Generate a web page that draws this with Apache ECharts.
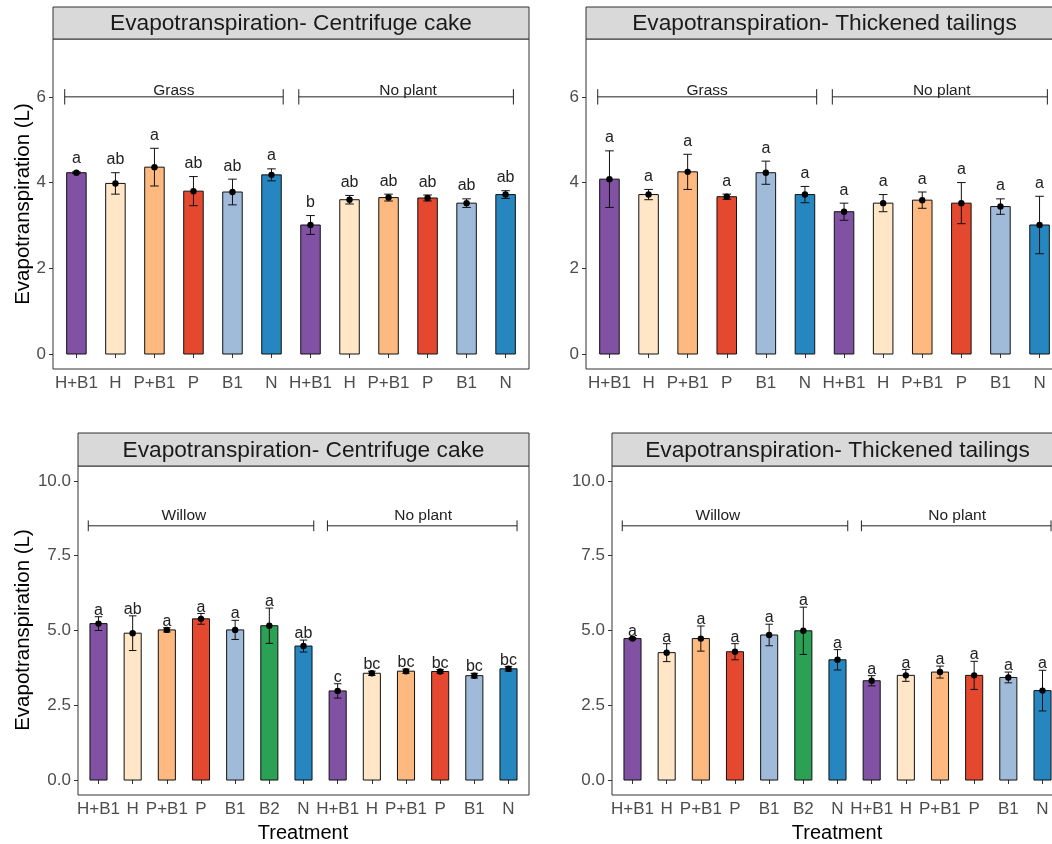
<!DOCTYPE html>
<html>
<head>
<meta charset="utf-8">
<script src="https://cdn.jsdelivr.net/npm/echarts@6/dist/echarts.min.js"></script>
<style>
html,body{margin:0;padding:0;background:#fff;overflow:hidden;}
#c{width:1080px;height:844px;}
</style>
</head>
<body>
<div id="c"></div>
<script>
// ---------------- data ----------------
const grassCats = ['H+B1','H','P+B1','P','B1','N','H+B1','H','P+B1','P','B1','N'];
const willowCats = ['H+B1','H','P+B1','P','B1','B2','N','H+B1','H','P+B1','P','B1','N'];

// Centrifuge cake - Grass / No plant
const ccGrassMean = [4.23, 3.98, 4.36, 3.80, 3.78, 4.18, 3.01, 3.60, 3.65, 3.64, 3.52, 3.72];
const ccGrassSE   = [0.02, 0.25, 0.44, 0.34, 0.30, 0.14, 0.22, 0.10, 0.08, 0.07, 0.10, 0.09];
const ccGrassLetters = ['a','ab','a','ab','ab','a','b','ab','ab','ab','ab','ab'];

// Thickened tailings - Grass / No plant
const ttGrassMean = [4.08, 3.72, 4.25, 3.67, 4.23, 3.72, 3.32, 3.52, 3.59, 3.52, 3.44, 3.01];
const ttGrassSE   = [0.66, 0.12, 0.41, 0.06, 0.27, 0.19, 0.20, 0.20, 0.19, 0.48, 0.18, 0.67];
const ttGrassLetters = ['a','a','a','a','a','a','a','a','a','a','a','a'];

// Centrifuge cake - Willow / No plant
const ccWillowMean = [5.23, 4.91, 5.02, 5.39, 5.02, 5.16, 4.48, 2.98, 3.57, 3.64, 3.63, 3.49, 3.72];
const ccWillowSE   = [0.23, 0.58, 0.07, 0.18, 0.32, 0.59, 0.20, 0.24, 0.07, 0.07, 0.06, 0.08, 0.08];
const ccWillowLetters = ['a','ab','a','a','a','a','ab','c','bc','bc','bc','bc','bc'];

// Thickened tailings - Willow / No plant
const ttWillowMean = [4.73, 4.26, 4.73, 4.29, 4.85, 4.99, 4.02, 3.32, 3.50, 3.61, 3.50, 3.43, 2.99];
const ttWillowSE   = [0.03, 0.30, 0.42, 0.27, 0.36, 0.79, 0.34, 0.17, 0.20, 0.20, 0.47, 0.18, 0.68];
const ttWillowLetters = ['a','a','a','a','a','a','a','a','a','a','a','a','a'];

// tick labels
const topYTicks = [0, 2, 4, 6];
const bottomYTicks = [0, 2.5, 5, 7.5, 10];

// group brackets
const grassGroupLabels = ['Grass', 'No plant'];
const grassGroupStart = [0.7, 6.7];
const grassGroupEnd = [6.3, 12.2];
const grassGroupLabelX = [3.5, 9.5];
const grassGroupY = 6;
const grassGroupLabelY = 6.15;

const willowGroupLabels = ['Willow', 'No plant'];
const willowGroupStart = [0.7, 7.7];
const willowGroupEnd = [7.3, 13.25];
const willowGroupLabelX = [3.5, 10.5];
const willowGroupY = 8.5;
const willowGroupLabelY = 8.85;

// ---------------- styles ----------------
const FONT = "'Liberation Sans', Arial, Helvetica, sans-serif";
const C = {
  purple: '#8151a3', cream: '#fee6c6', lorange: '#fdb97f', red: '#e4492f',
  lblue: '#a0bad9', blue: '#2586c0', green: '#2ba155'
};
const grassColors = [C.purple, C.cream, C.lorange, C.red, C.lblue, C.blue,
                     C.purple, C.cream, C.lorange, C.red, C.lblue, C.blue];
const willowColors = [C.purple, C.cream, C.lorange, C.red, C.lblue, C.green, C.blue,
                      C.purple, C.cream, C.lorange, C.red, C.lblue, C.blue];

const panels = [
  { left: 53, top: 39, width: 476, height: 330, stripTop: 7,
    cats: grassCats, colors: grassColors, mean: ccGrassMean, se: ccGrassSE, letters: ccGrassLetters,
    ymin: -0.35, ymax: 7.35, yticks: topYTicks, dec: 0, letterGap: 0.3,
    title: 'Evapotranspiration- Centrifuge cake',
    gl: grassGroupLabels, gs: grassGroupStart, ge: grassGroupEnd, glx: grassGroupLabelX, gy: grassGroupY, gly: grassGroupLabelY },
  { left: 586, top: 39, width: 477, height: 330, stripTop: 7,
    cats: grassCats, colors: grassColors, mean: ttGrassMean, se: ttGrassSE, letters: ttGrassLetters,
    ymin: -0.35, ymax: 7.35, yticks: topYTicks, dec: 0, letterGap: 0.3,
    title: 'Evapotranspiration- Thickened tailings',
    gl: grassGroupLabels, gs: grassGroupStart, ge: grassGroupEnd, glx: grassGroupLabelX, gy: grassGroupY, gly: grassGroupLabelY },
  { left: 78, top: 466, width: 451, height: 329, stripTop: 433,
    cats: willowCats, colors: willowColors, mean: ccWillowMean, se: ccWillowSE, letters: ccWillowLetters,
    ymin: -0.5, ymax: 10.5, yticks: bottomYTicks, dec: 1, letterGap: 0.21,
    title: 'Evapotranspiration- Centrifuge cake',
    gl: willowGroupLabels, gs: willowGroupStart, ge: willowGroupEnd, glx: willowGroupLabelX, gy: willowGroupY, gly: willowGroupLabelY },
  { left: 612, top: 466, width: 451, height: 329, stripTop: 433,
    cats: willowCats, colors: willowColors, mean: ttWillowMean, se: ttWillowSE, letters: ttWillowLetters,
    ymin: -0.5, ymax: 10.5, yticks: bottomYTicks, dec: 1, letterGap: 0.21,
    title: 'Evapotranspiration- Thickened tailings',
    gl: willowGroupLabels, gs: willowGroupStart, ge: willowGroupEnd, glx: willowGroupLabelX, gy: willowGroupY, gly: willowGroupLabelY }
];

const grids = [], xAxes = [], yAxes = [], series = [], graphics = [];

panels.forEach((p, k) => {
  const n = p.cats.length;
  const idx = p.cats.map((_, i) => i + 1);
  grids.push({ left: p.left, top: p.top, width: p.width, height: p.height,
    show: true, borderColor: '#333', borderWidth: 1, backgroundColor: '#fff', containLabel: false });
  xAxes.push({ type: 'value', gridIndex: k, min: 0.4, max: n + 0.6,
    splitLine: { show: false }, axisLine: { show: false },
    axisTick: { show: true, length: 4, inside: false, lineStyle: { color: '#333', width: 1 }, customValues: idx },
    axisLabel: { customValues: idx, margin: 6, color: '#4d4d4d', fontSize: 17, fontFamily: FONT,
      formatter: v => p.cats[Math.round(v) - 1] || '' } });
  yAxes.push({ type: 'value', gridIndex: k, min: p.ymin, max: p.ymax,
    splitLine: { show: false }, axisLine: { show: false },
    axisTick: { show: true, length: 4, lineStyle: { color: '#333', width: 1 }, customValues: p.yticks },
    axisLabel: { customValues: p.yticks, margin: 7, color: '#4d4d4d', fontSize: 17, fontFamily: FONT,
      formatter: v => (p.dec ? Number(v).toFixed(1) : String(Math.round(v))) } });

  // bars
  series.push({ type: 'custom', xAxisIndex: k, yAxisIndex: k, clip: false,
    data: p.mean.map((m, i) => [i + 1, m]),
    renderItem: (params, api) => {
      const x = api.value(0), y = api.value(1);
      const a = api.coord([x - 0.25, y]);
      const b = api.coord([x + 0.25, 0]);
      return { type: 'rect',
        shape: { x: a[0], y: a[1], width: b[0] - a[0], height: b[1] - a[1] },
        style: { fill: p.colors[params.dataIndex], stroke: '#111', lineWidth: 1 } };
    } });

  // error bars, mean points, letters
  series.push({ type: 'custom', xAxisIndex: k, yAxisIndex: k, clip: false, z: 5,
    data: p.mean.map((m, i) => [i + 1, m, p.se[i]]),
    renderItem: (params, api) => {
      const x = api.value(0), m = api.value(1), s = api.value(2);
      const top = api.coord([x, m + s]), bot = api.coord([x, m - s]);
      const cl = api.coord([x - 0.11, m + s]), cr = api.coord([x + 0.11, m + s]);
      const bl = api.coord([x - 0.11, m - s]), br = api.coord([x + 0.11, m - s]);
      const c = api.coord([x, m]);
      const t = api.coord([x, m + s + p.letterGap]);
      const ls = { stroke: '#111', lineWidth: 1 };
      return { type: 'group', children: [
        { type: 'line', shape: { x1: top[0], y1: top[1], x2: bot[0], y2: bot[1] }, style: ls },
        { type: 'line', shape: { x1: cl[0], y1: cl[1], x2: cr[0], y2: cr[1] }, style: ls },
        { type: 'line', shape: { x1: bl[0], y1: bl[1], x2: br[0], y2: br[1] }, style: ls },
        { type: 'circle', shape: { cx: c[0], cy: c[1], r: 3.2 }, style: { fill: '#000' } },
        { type: 'text', style: { text: p.letters[params.dataIndex], x: t[0], y: t[1],
            align: 'center', verticalAlign: 'middle', textAlign: 'center', textVerticalAlign: 'middle',
            fill: '#222', font: '16px ' + FONT } }
      ] };
    } });

  // group brackets
  series.push({ type: 'custom', xAxisIndex: k, yAxisIndex: k, clip: false, z: 4,
    data: p.gl.map((_, i) => [p.gs[i], p.ge[i], p.gy, p.glx[i], p.gly]),
    renderItem: (params, api) => {
      const x0 = api.value(0), x1 = api.value(1), y = api.value(2), lx = api.value(3), ly = api.value(4);
      const a = api.coord([x0, y]), b = api.coord([x1, y]);
      const au = api.coord([x0, y + 0.18]), ad = api.coord([x0, y - 0.18]);
      const bu = api.coord([x1, y + 0.18]), bd = api.coord([x1, y - 0.18]);
      const l = api.coord([lx, ly]);
      const ls = { stroke: '#222', lineWidth: 1 };
      return { type: 'group', children: [
        { type: 'line', shape: { x1: a[0], y1: a[1], x2: b[0], y2: b[1] }, style: ls },
        { type: 'line', shape: { x1: au[0], y1: au[1], x2: ad[0], y2: ad[1] }, style: ls },
        { type: 'line', shape: { x1: bu[0], y1: bu[1], x2: bd[0], y2: bd[1] }, style: ls },
        { type: 'text', style: { text: p.gl[params.dataIndex], x: l[0], y: l[1],
            align: 'center', verticalAlign: 'middle', textAlign: 'center', textVerticalAlign: 'middle',
            fill: '#222', font: '15.5px ' + FONT } }
      ] };
    } });

  // strip
  graphics.push({ type: 'rect', shape: { x: p.left, y: p.stripTop, width: p.width, height: p.top - p.stripTop },
    style: { fill: '#d9d9d9', stroke: '#333', lineWidth: 1 } });
  graphics.push({ type: 'text', x: p.left + p.width / 2, y: (p.stripTop + p.top) / 2 + 1,
    style: { text: p.title, align: 'center', verticalAlign: 'middle', textAlign: 'center', textVerticalAlign: 'middle',
      fill: '#1a1a1a', font: '22.7px ' + FONT } });
});

// axis titles
[[23, 204], [23, 630]].forEach(([x, y]) => {
  graphics.push({ type: 'text', x: x, y: y, rotation: Math.PI / 2,
    style: { text: 'Evapotranspiration (L)', align: 'center', verticalAlign: 'middle',
      textAlign: 'center', textVerticalAlign: 'middle', fill: '#000', font: '20.5px ' + FONT } });
});
[303, 837].forEach(x => {
  graphics.push({ type: 'text', x: x, y: 833,
    style: { text: 'Treatment', align: 'center', verticalAlign: 'middle',
      textAlign: 'center', textVerticalAlign: 'middle', fill: '#000', font: '20px ' + FONT } });
});

const chart = echarts.init(document.getElementById('c'), null, { renderer: 'canvas' });
chart.setOption({
  animation: false,
  backgroundColor: '#fff',
  textStyle: { fontFamily: FONT },
  grid: grids,
  xAxis: xAxes,
  yAxis: yAxes,
  series: series,
  graphic: { elements: graphics }
});
</script>
</body>
</html>
